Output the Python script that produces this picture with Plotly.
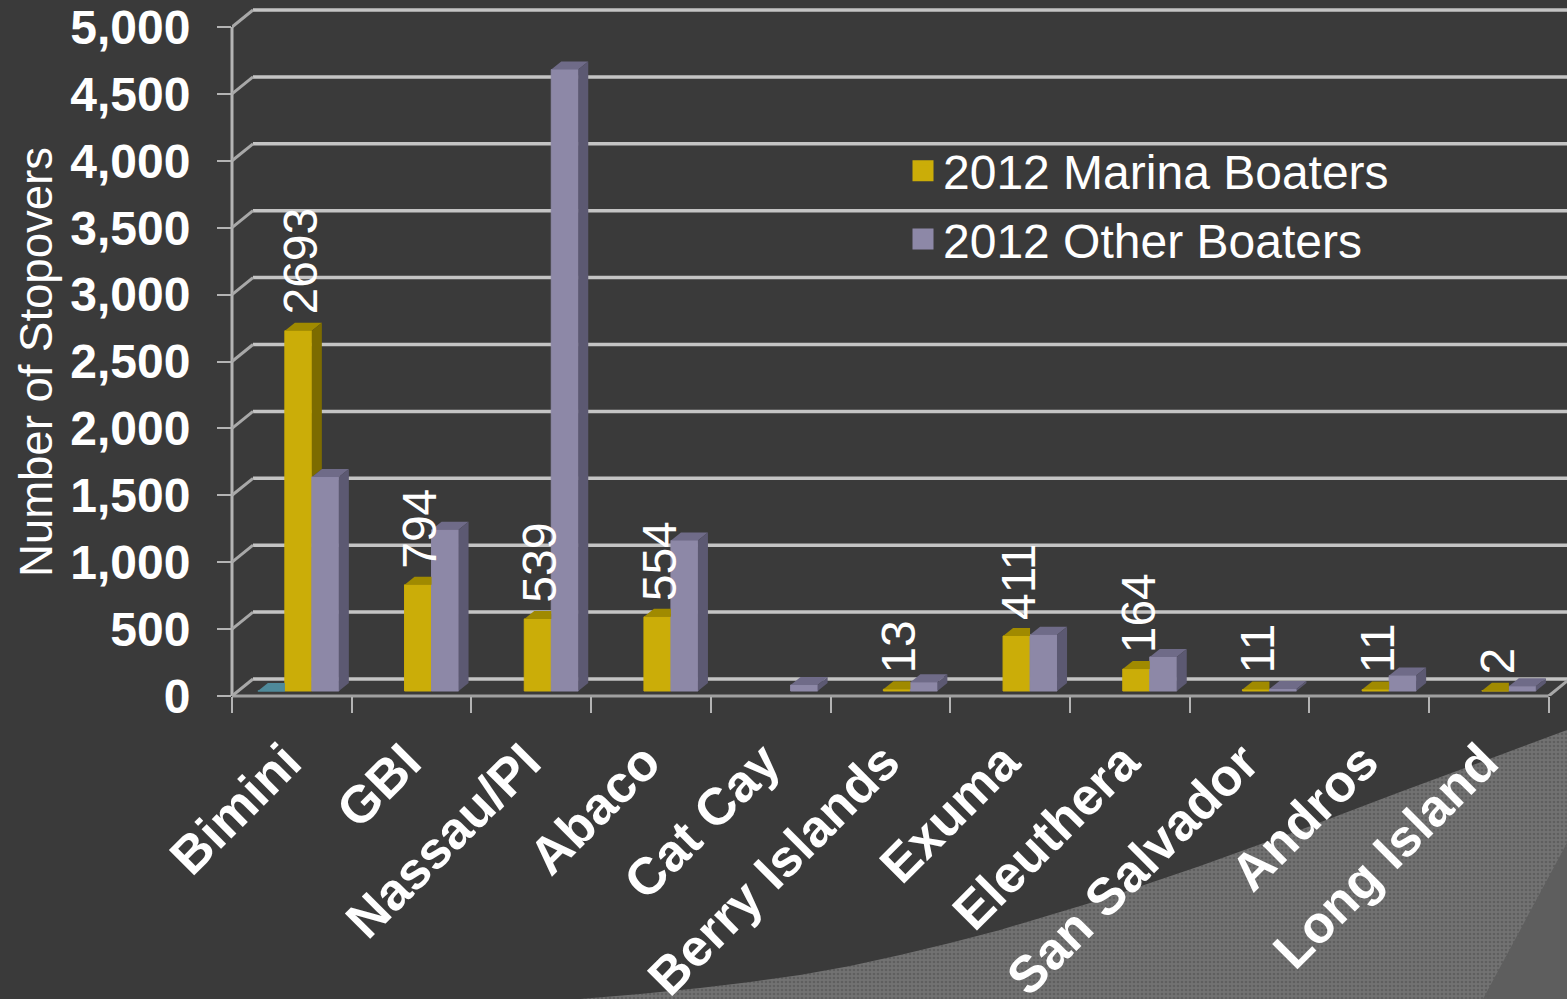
import plotly.graph_objects as go

categories = ["Bimini", "GBI", "Nassau/PI", "Abaco", "Cat Cay", "Berry Islands", "Exuma",
              "Eleuthera", "San Salvador", "Andros", "Long Island"]
marina_2012 = [2693, 794, 539, 554, None, 13, 411, 164, 11, 11, 2]
other_2012 = [1600, 1205, 4645, 1125, 45, 65, 420, 255, 15, 115, 35]
earlier_series = [0, None, None, None, None, None, None, None, None, None, None]
y_ticks = [0, 500, 1000, 1500, 2000, 2500, 3000, 3500, 4000, 4500, 5000]

W, H = 1567, 999
XU, YU = 119.7, 0.1338          # pixels per category / per stopover
X0_PX, Y0_PX = 232, 696         # pixel position of the chart origin
BG = "#3a3a3a"
GRID = "#c4c4c4"
FONT = "Liberation Sans"
DX, DY = 10 / XU, 8 / YU        # bar depth
WALL_X, WALL_Y = 21 / XU, 17 / YU
BASE = 5 / YU                   # bars stand a little behind the front edge
BW = 27 / XU                    # bar width
GROUP_SHIFT = 6.5 / XU

x_max = -0.5 + (W - X0_PX) / XU
y_max = Y0_PX / YU
x_front_end = len(categories) - 0.5

fig = go.Figure()

# ---- backdrop swoosh in page pixels (lowest subplot)
swoosh_x = [580, 640, 700, 750, 800, 850, 900, 950, 1000, 1050, 1100, 1150, 1200, 1300, 1400, 1500, 1567, 1567, 580]
swoosh_y = [999, 994, 988, 982, 975, 966, 955, 943, 930, 915, 900, 883, 866, 830, 792, 755, 730, 999, 999]
fig.add_trace(go.Scatter(x=swoosh_x, y=swoosh_y, mode="lines", fill="toself", line_width=0,
                         fillcolor="#707070", hoverinfo="skip", showlegend=False,
                         fillpattern=dict(shape=".", size=4, solidity=0.35, bgcolor="#727272",
                                          fgcolor="#5f5f5f", fillmode="replace"),
                         xaxis="x", yaxis="y"))
fig.add_trace(go.Scatter(x=[1483, 1567, 1567, 1483], y=[999, 843, 999, 999], mode="lines", fill="toself",
                         line_width=0, fillcolor="#5e5e5e", hoverinfo="skip", showlegend=False,
                         xaxis="x", yaxis="y"))

# ---- wall and floor lines
shapes = []
def line(x0, y0, x1, y1, color=GRID, width=3.5, xref="x2", yref="y2"):
    shapes.append(dict(type="line", xref=xref, yref=yref, x0=x0, y0=y0, x1=x1, y1=y1,
                       layer="below", line=dict(color=color, width=width)))

for v in y_ticks:
    line(-0.5 + WALL_X, v + WALL_Y, x_max, v + WALL_Y)
    line(-0.5, v, -0.5 + WALL_X, v + WALL_Y, "#a8a8a8", 3)
line(X0_PX / W, 0, X0_PX / W, y_ticks[-1], "#b4b4b4", 3, xref="paper")
line(-0.5, (H - Y0_PX) / H, x_front_end, (H - Y0_PX) / H, "#a0a0a0", 3, yref="paper")
line(x_front_end, 0, x_front_end + WALL_X, WALL_Y, "#a8a8a8", 3)

# ---- bars
idx = list(range(len(categories)))
series = [
    (earlier_series, -1.5 * BW, "#4f8a9a", "#4f8a9a", "#3d6c78", "Earlier"),
    (marina_2012, -0.5 * BW, "#cbad08", "#a08a00", "#7c6b00", "2012 Marina Boaters"),
    (other_2012, 0.5 * BW, "#8d88a7", "#6f6b88", "#5c5972", "2012 Other Boaters"),
]
for vals, off, front, top, side, name in series:
    fig.add_trace(go.Bar(x=idx, y=vals, base=BASE, width=BW, offset=off + GROUP_SHIFT,
                         marker=dict(color=front, line=dict(color=front, width=1)), name=name, showlegend=False,
                         xaxis="x2", yaxis="y2"))

for s, (vals, off, front, top, side, name) in enumerate(series):
    nxt = series[s + 1][0] if s + 1 < len(series) else None
    for i, v in zip(idx, vals):
        if v is None:
            continue
        x0 = i + off + GROUP_SHIFT
        x1 = x0 + BW
        yt = v + BASE
        n = nxt[i] if nxt is not None else None
        covered = n is not None and n >= v
        if covered:
            tx = [x0, x1, x1, x0 + DX, x0]
            ty = [yt, yt, yt + DY, yt + DY, yt]
        else:
            tx = [x0, x1, x1 + DX, x0 + DX, x0]
            ty = [yt, yt, yt + DY, yt + DY, yt]
        fig.add_trace(go.Scatter(x=tx, y=ty, mode="lines", fill="toself", line_width=0, fillcolor=top,
                                 hoverinfo="skip", showlegend=False, xaxis="x2", yaxis="y2"))
        if not covered:
            low = (n + BASE) if n is not None else BASE
            fig.add_trace(go.Scatter(x=[x1, x1 + DX, x1 + DX, x1, x1],
                                     y=[low, low + DY, yt + DY, yt, low],
                                     mode="lines", fill="toself", line_width=0, fillcolor=side,
                                     hoverinfo="skip", showlegend=False, xaxis="x2", yaxis="y2"))

# ---- legend entries
for (vals, off, front, top, side, name) in series[1:]:
    fig.add_trace(go.Scatter(x=[None], y=[None], mode="markers", name=name, legendgroup=name,
                             marker=dict(symbol="square", size=16, color=front,
                                         line=dict(color=front, width=5)),
                             xaxis="x2", yaxis="y2"))

# ---- data labels
annotations = []
for i, v in zip(idx, marina_2012):
    if v is None:
        continue
    annotations.append(dict(x=i + GROUP_SHIFT + 2 / XU, y=v + BASE, xref="x2", yref="y2",
                            text=str(v), textangle=-90, showarrow=False, xanchor="center", yanchor="bottom",
                            yshift=14, font=dict(family=FONT, size=48, color="white")))
annotations.append(dict(x=36 / W, y=1 - 362 / H, xref="paper", yref="paper", text="Number of Stopovers",
                        textangle=-90, showarrow=False, xanchor="center", yanchor="middle",
                        font=dict(family=FONT, size=45.5, color="white")))

fig.update_layout(
    width=W, height=H, margin=dict(l=0, r=0, t=0, b=0), autosize=False,
    paper_bgcolor=BG, plot_bgcolor="rgba(0,0,0,0)",
    barmode="overlay", shapes=shapes, annotations=annotations,
    font=dict(family=FONT, color="white"),
    legend=dict(x=903 / W, y=1 - 133 / H, xanchor="left", yanchor="top", bgcolor="rgba(0,0,0,0)",
                font=dict(family=FONT, size=48, color="white"), itemclick=False, tracegroupgap=3),
    xaxis=dict(domain=[0, 1], range=[0, W], visible=False, fixedrange=True, automargin=False),
    yaxis=dict(domain=[0, 1], range=[H, 0], visible=False, fixedrange=True, automargin=False),
    xaxis2=dict(domain=[X0_PX / W, 1], range=[-0.5, x_max], anchor="y2", automargin=False,
                showgrid=False, zeroline=False, showline=False,
                tickmode="array", tickvals=idx, ticktext=categories, ticks="", tickangle=-45,
                tickfont=dict(family=FONT, size=52, color="white", weight="bold"),
                ticklabelstandoff=24, ticklabelshift=-6,
                minor=dict(ticks="outside", tickmode="array", tickvals=[i - 0.5 for i in idx] + [x_front_end],
                           ticklen=16, tickwidth=2, tickcolor="#b4b4b4", showgrid=False)),
    yaxis2=dict(domain=[(H - Y0_PX) / H, 1], range=[0, y_max], anchor="x2", automargin=False,
                showgrid=False, zeroline=False, showline=False,
                tickmode="array", tickvals=y_ticks, tickformat=",d", ticks="outside", ticklen=14, tickwidth=2,
                tickcolor="#b4b4b4",
                tickfont=dict(family=FONT, size=48, color="white", weight="bold"),
                ticklabelstandoff=17),
)

fig.write_html("out.html", config=dict(displayModeBar=False),
               post_script="document.body.style.margin='0';document.body.style.background='#3a3a3a';document.documentElement.style.overflow='hidden';")
